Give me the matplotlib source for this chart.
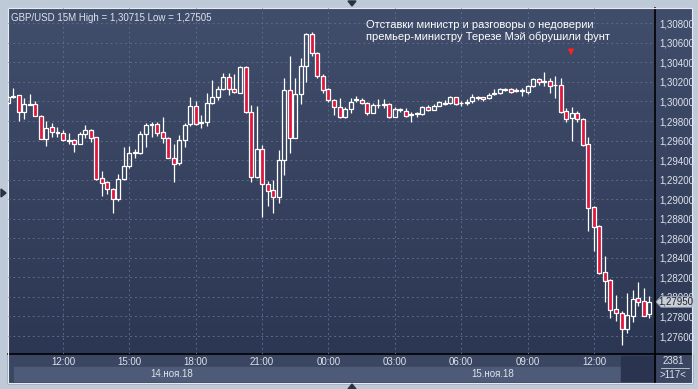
import numpy as np
import pandas as pd
import matplotlib
matplotlib.use("Agg")
import matplotlib.pyplot as plt
from matplotlib.colors import LinearSegmentedColormap
from matplotlib.patches import Rectangle, Polygon

plt.rcParams["font.family"] = ["Liberation Sans", "DejaVu Sans"]

# GBP/USD 15-minute candles, 14.11.2018 09:30 .. 15.11.2018 14:30
times = pd.date_range("2018-11-14 09:30", periods=117, freq="15min")

opens = [1.29985, 1.30046, 1.30063, 1.29896, 1.29964, 1.29971, 1.29852, 1.29621, 1.29736, 1.29675,
         1.29675, 1.29591, 1.29603, 1.29562, 1.29668, 1.29708, 1.29632, 1.29212, 1.29176, 1.29102,
         1.29000, 1.29204, 1.29340, 1.29470, 1.29476, 1.29664, 1.29757, 1.29767, 1.29685, 1.29624,
         1.29419, 1.29366, 1.29606, 1.29767, 1.29949, 1.29783, 1.29787, 1.29982, 1.30043, 1.30125,
         1.30248, 1.30125, 1.30090, 1.30350, 1.29896, 1.29231, 1.29511, 1.29153, 1.29092, 1.29026,
         1.29402, 1.30118, 1.29630, 1.30074, 1.30363, 1.30687, 1.30493, 1.30264, 1.30125, 1.30015,
         1.29947, 1.29838, 1.29920, 1.30015, 1.30015, 1.29982, 1.29887, 1.29961, 1.29964, 1.29971,
         1.29845, 1.29910, 1.29906, 1.29862, 1.29867, 1.29869, 1.29944, 1.29913, 1.29957, 1.29974,
         1.29982, 1.30043, 1.29982, 1.29988, 1.30005, 1.30033, 1.30043, 1.30033, 1.30074, 1.30084,
         1.30118, 1.30128, 1.30107, 1.30107, 1.30094, 1.30159, 1.30227, 1.30196, 1.30213, 1.30166,
         1.30169, 1.29906, 1.29828, 1.29879, 1.29821, 1.29565, 1.28918, 1.28726, 1.28253, 1.28174,
         1.27874, 1.27839, 1.27673, 1.27809, 1.27987, 1.27959, 1.27823]
highs = [1.30056, 1.30133, 1.30066, 1.30036, 1.30074, 1.30005, 1.29862, 1.29801, 1.29775, 1.29739,
         1.29708, 1.29678, 1.29611, 1.29683, 1.29760, 1.29714, 1.29637, 1.29289, 1.29190, 1.29115,
         1.29258, 1.29531, 1.29545, 1.29509, 1.29701, 1.29783, 1.29793, 1.29793, 1.29838, 1.29632,
         1.29565, 1.29657, 1.29783, 1.30049, 1.30008, 1.29862, 1.30090, 1.30220, 1.30159, 1.30295,
         1.30288, 1.30278, 1.30363, 1.30358, 1.29964, 1.29954, 1.29555, 1.29190, 1.29197, 1.29504,
         1.30243, 1.30469, 1.30243, 1.30442, 1.30705, 1.30715, 1.30506, 1.30281, 1.30143, 1.30026,
         1.30033, 1.29947, 1.30033, 1.30056, 1.30033, 1.29990, 1.29985, 1.30023, 1.30026, 1.29980,
         1.29941, 1.29937, 1.29930, 1.29896, 1.29896, 1.29957, 1.29964, 1.29974, 1.30005, 1.30015,
         1.30051, 1.30049, 1.30008, 1.30023, 1.30074, 1.30051, 1.30046, 1.30090, 1.30128, 1.30135,
         1.30135, 1.30133, 1.30135, 1.30141, 1.30169, 1.30240, 1.30237, 1.30305, 1.30237, 1.30261,
         1.30237, 1.29937, 1.29947, 1.29906, 1.29826, 1.29640, 1.28931, 1.28737, 1.28423, 1.28184,
         1.28020, 1.27857, 1.28038, 1.28072, 1.28157, 1.28095, 1.28013]
lows = [1.29974, 1.30036, 1.29801, 1.29821, 1.29961, 1.29847, 1.29611, 1.29548, 1.29637, 1.29637,
        1.29599, 1.29565, 1.29478, 1.29560, 1.29627, 1.29586, 1.29197, 1.29036, 1.29054, 1.28862,
        1.28985, 1.29197, 1.29320, 1.29422, 1.29458, 1.29531, 1.29634, 1.29647, 1.29579, 1.29417,
        1.29180, 1.29350, 1.29531, 1.29752, 1.29760, 1.29729, 1.29752, 1.29977, 1.30015, 1.30118,
        1.30066, 1.30084, 1.30087, 1.29879, 1.29180, 1.29214, 1.28821, 1.28931, 1.28862, 1.28965,
        1.29248, 1.29476, 1.29624, 1.29974, 1.30203, 1.30469, 1.30243, 1.30090, 1.29992, 1.29862,
        1.29828, 1.29828, 1.29885, 1.29992, 1.29971, 1.29862, 1.29882, 1.29930, 1.29934, 1.29831,
        1.29841, 1.29896, 1.29845, 1.29795, 1.29845, 1.29862, 1.29903, 1.29908, 1.29951, 1.29964,
        1.29974, 1.29967, 1.29957, 1.29964, 1.29982, 1.30020, 1.30008, 1.30026, 1.30066, 1.30074,
        1.30107, 1.30084, 1.30094, 1.30059, 1.30074, 1.30153, 1.30169, 1.30162, 1.30084, 1.30039,
        1.29879, 1.29793, 1.29596, 1.29793, 1.29545, 1.28678, 1.28471, 1.28232, 1.27952, 1.27788,
        1.27755, 1.27505, 1.27629, 1.27741, 1.27911, 1.27806, 1.27782]
closes = [1.30046, 1.30061, 1.29896, 1.29971, 1.29971, 1.29852, 1.29621, 1.29726, 1.29685, 1.29683,
          1.29603, 1.29603, 1.29562, 1.29668, 1.29708, 1.29630, 1.29207, 1.29163, 1.29102, 1.29000,
          1.29204, 1.29335, 1.29470, 1.29483, 1.29664, 1.29760, 1.29770, 1.29675, 1.29624, 1.29419,
          1.29358, 1.29606, 1.29760, 1.29954, 1.29770, 1.29793, 1.29985, 1.30043, 1.30125, 1.30248,
          1.30125, 1.30094, 1.30353, 1.29896, 1.29231, 1.29511, 1.29153, 1.29087, 1.29026, 1.29402,
          1.30118, 1.29630, 1.30074, 1.30363, 1.30691, 1.30493, 1.30264, 1.30118, 1.30012, 1.29941,
          1.29838, 1.29920, 1.29998, 1.30029, 1.29982, 1.29882, 1.29964, 1.29969, 1.29974, 1.29838,
          1.29920, 1.29920, 1.29855, 1.29869, 1.29879, 1.29944, 1.29913, 1.29954, 1.29992, 1.29988,
          1.30043, 1.29971, 1.29988, 1.29998, 1.30049, 1.30043, 1.30023, 1.30066, 1.30084, 1.30125,
          1.30128, 1.30100, 1.30118, 1.30115, 1.30159, 1.30230, 1.30196, 1.30207, 1.30162, 1.30172,
          1.29896, 1.29818, 1.29879, 1.29818, 1.29555, 1.28914, 1.28719, 1.28242, 1.28167, 1.27867,
          1.27833, 1.27673, 1.27816, 1.27977, 1.27952, 1.27809, 1.27950]

price_ticks = [1.276, 1.278, 1.280, 1.282, 1.284, 1.286, 1.288, 1.290, 1.292, 1.294,
               1.296, 1.298, 1.300, 1.302, 1.304, 1.306, 1.308]
day_labels = ["14.ноя.18", "15.ноя.18"]
note = "Отставки министр и разговоры о недоверии\nпремьер-министру Терезе Мэй обрушили фунт"

RED = "#e0143c"
TXT = "#dde3ec"
W, H = 698, 389

fig = plt.figure(figsize=(W / 100, H / 100), dpi=100)
fig.patch.set_facecolor("#bfcad9")

# pixel-space background layer for the terminal frame
bg = fig.add_axes([0, 0, 1, 1])
bg.set_xlim(0, W)
bg.set_ylim(H, 0)
bg.axis("off")
cmap = LinearSegmentedColormap.from_list("panel", ["#414e6b", "#2c3753"])
bg.imshow(np.linspace(0, 1, 200).reshape(-1, 1), cmap=cmap, aspect="auto",
          extent=(8, 692, 354, 8), zorder=0)
bg.add_patch(Rectangle((8, 354), 684, 29, color="#3a4662", zorder=1))
bg.add_patch(Rectangle((14, 367), 315, 14, color="#4d5b78", zorder=2))
bg.add_patch(Rectangle((330, 367), 290, 14, color="#4d5b78", zorder=2))
bg.add_patch(Rectangle((621, 356), 34, 25, color="#2a3450", zorder=2))
bg.add_patch(Rectangle((8, 8), 684, 375, fill=False, ec="#e6ebf2", lw=0.8, zorder=5))
bg.plot([655, 655], [8, 383], color="black", lw=1.2, zorder=4)
bg.plot([8, 692], [354, 354], color="black", lw=1.2, zorder=4)
bg.plot([661, 689], [368, 368], color="#c8d0dc", lw=0.6, zorder=4)
bg.text(673, 361, "2381", color=TXT, fontsize=7, ha="center", va="center", zorder=5)
bg.text(673, 375, ">117<", color=TXT, fontsize=7, ha="center", va="center", zorder=5)
bg.text(172, 374, day_labels[0], color=TXT, fontsize=7, ha="center", va="center", zorder=5)
bg.text(493, 374, day_labels[1], color=TXT, fontsize=7, ha="center", va="center", zorder=5)
bg.add_patch(Polygon([[352, 6], [348, 1], [356, 1]], color="#2a3245", zorder=5))
bg.add_patch(Polygon([[352, 384], [348, 389], [356, 389]], color="#2a3245", zorder=5))
bg.add_patch(Polygon([[6, 193], [1, 189], [1, 197]], color="#2a3245", zorder=5))

# chart axes
ax = fig.add_axes([8 / W, 1 - 354 / H, 647 / W, 346 / H])
ax.patch.set_alpha(0)
for s in ax.spines.values():
    s.set_visible(False)

x = np.arange(len(times))
o = np.array(opens)
c = np.array(closes)
hi = np.array(highs)
lo = np.array(lows)
top = np.maximum(o, c)
bot = np.minimum(o, c)
up = c >= o

ax.vlines(x, top, hi, color="white", lw=0.9, zorder=3)
ax.vlines(x, lo, bot, color="white", lw=0.9, zorder=3)
ax.bar(x, np.maximum(top - bot, 0.00001), bottom=bot, width=0.72,
       color=np.where(up, "none", RED), edgecolor="white", linewidth=0.9, zorder=4)

ax.set_xlim(0.05, 117.05)
ax.set_ylim(1.274158, 1.309566)

mask = (times.minute == 0) & (times.hour % 3 == 0)
ax.set_xticks(x[mask])
ax.set_xticklabels(times[mask].strftime("%H:%M"))
ax.set_yticks(price_ticks)
ax.set_yticklabels([f"{v:.5f}".replace(".", ",") for v in price_ticks])
ax.yaxis.tick_right()
ax.tick_params(axis="both", length=0, colors=TXT, labelsize=7)
ax.tick_params(axis="x", pad=2)
ax.tick_params(axis="y", pad=3)
ax.grid(True, color="#5b6887", lw=0.7, linestyle=(0, (2, 3)))
ax.set_axisbelow(True)

ax.text(0.005, 0.985, "GBP/USD 15M High = {:.5f} Low = {:.5f}".format(max(highs), min(lows)).replace(".", ","),
        transform=ax.transAxes, color=TXT, fontsize=7, ha="left", va="top")
ax.text(0.553, 0.965, note, transform=ax.transAxes, color="white", fontsize=8.0,
        ha="left", va="top", linespacing=1.2)

# overlay layer on top of the chart axes
ov = fig.add_axes([0, 0, 1, 1])
ov.set_xlim(0, W)
ov.set_ylim(H, 0)
ov.axis("off")
ov.patch.set_alpha(0)
ov.annotate("", xy=(571, 58), xytext=(571, 49),
            arrowprops=dict(arrowstyle="-|>", color="#ff2020", lw=1.3, mutation_scale=7))

# last price marker (covers the 1,28000 label like in the terminal)
last = closes[-1]
ly = ax.transData.transform((0, last))[1]
ly = H - ly * H / fig.bbox.height
ov.add_patch(Polygon([[656, ly], [661, ly - 5.5], [692, ly - 5.5], [692, ly + 5.5], [661, ly + 5.5]],
                     fc="#c9ced7", ec="#8d97a7", lw=0.6, zorder=6))
ov.text(676, ly, f"{last:.5f}".replace(".", ","), color="#1e2430", fontsize=7,
        ha="center", va="center", zorder=7)

fig.savefig("out.png", dpi=100, facecolor=fig.get_facecolor())
